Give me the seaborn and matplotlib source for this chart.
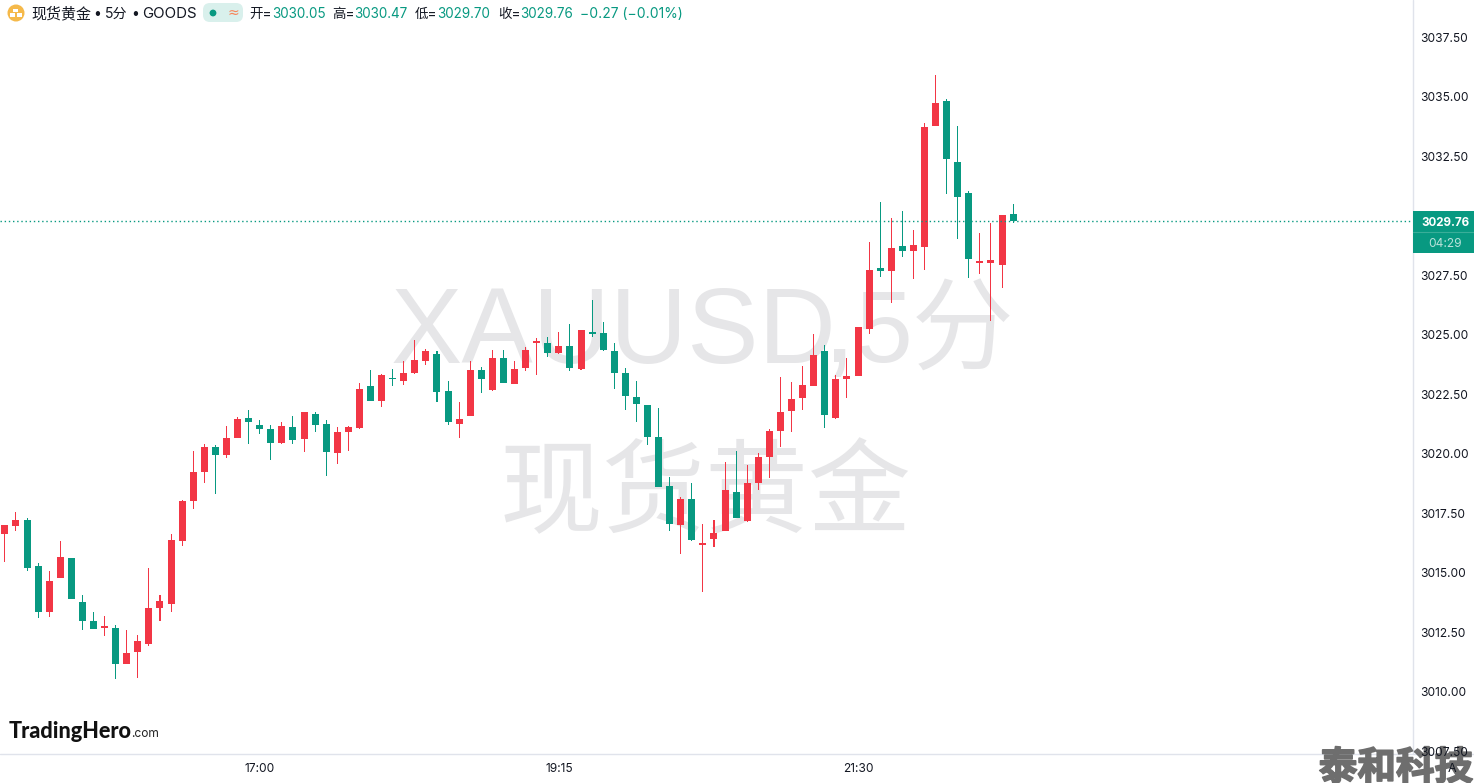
"""
XAUUSD 5 minute candlestick chart, TradingView look.
"""

import pandas as pd
import matplotlib
matplotlib.use("Agg")
import matplotlib.pyplot as plt
import matplotlib.patheffects as pe
from matplotlib.patches import Circle, FancyBboxPatch, Rectangle
import seaborn as sns

# ----------------------------------------------------------
# Data
# ----------------------------------------------------------
opens = [
    3016.63, 3016.95, 3017.21, 3015.27, 3013.35, 3014.78, 3015.61, 3013.76, 3012.96, 3012.68,
    3012.67, 3011.17, 3011.67, 3012.01, 3013.52, 3013.69, 3016.34, 3018.02, 3019.24, 3020.27,
    3019.95, 3020.67, 3021.49, 3021.20, 3021.03, 3020.46, 3021.11, 3020.62, 3021.66, 3021.24,
    3020.02, 3020.90, 3021.07, 3022.84, 3022.21, 3023.17, 3023.05, 3023.38, 3023.89, 3024.18,
    3022.63, 3021.24, 3021.58, 3023.51, 3022.67, 3024.01, 3022.92, 3023.59, 3024.64, 3024.64,
    3024.22, 3024.52, 3023.55, 3025.11, 3025.06, 3024.31, 3023.38, 3022.37, 3022.04, 3020.69,
    3018.63, 3017.00, 3018.09, 3016.16, 3016.41, 3016.74, 3018.38, 3017.16, 3018.76, 3019.85,
    3020.94, 3021.79, 3022.33, 3022.84, 3024.31, 3021.49, 3023.13, 3023.26, 3025.22, 3027.79,
    3027.67, 3028.72, 3028.51, 3028.68, 3033.76, 3034.81, 3032.25, 3030.95, 3028.00, 3028.00,
    3027.92, 3030.05,
]
highs = [
    3017.00, 3017.54, 3017.29, 3015.40, 3015.06, 3016.32, 3015.61, 3014.05, 3013.34, 3013.17,
    3012.79, 3012.58, 3012.37, 3015.19, 3014.05, 3016.62, 3018.05, 3020.11, 3020.40, 3020.36,
    3021.16, 3021.53, 3021.83, 3021.41, 3021.20, 3021.32, 3021.58, 3021.74, 3021.74, 3021.41,
    3021.11, 3021.16, 3022.96, 3023.51, 3023.34, 3023.55, 3023.89, 3024.77, 3024.39, 3024.31,
    3023.05, 3022.16, 3023.89, 3023.63, 3024.35, 3024.35, 3023.89, 3024.48, 3024.85, 3024.90,
    3025.11, 3025.44, 3025.19, 3026.45, 3025.53, 3024.64, 3023.59, 3023.05, 3022.04, 3021.91,
    3019.01, 3018.17, 3018.76, 3017.04, 3017.21, 3019.64, 3020.11, 3019.52, 3020.02, 3021.03,
    3023.21, 3023.00, 3023.68, 3025.02, 3024.56, 3023.30, 3024.01, 3025.32, 3028.89, 3030.57,
    3029.90, 3030.19, 3029.39, 3033.89, 3035.90, 3034.90, 3033.76, 3031.03, 3029.27, 3029.69,
    3030.02, 3030.47,
]
lows = [
    3015.46, 3016.76, 3015.08, 3013.10, 3013.14, 3014.78, 3013.90, 3012.60, 3012.64, 3012.35,
    3010.54, 3011.17, 3010.58, 3011.93, 3012.98, 3013.35, 3016.13, 3017.68, 3018.78, 3018.31,
    3019.83, 3020.67, 3020.41, 3020.83, 3019.73, 3020.40, 3020.40, 3020.06, 3020.90, 3019.05,
    3019.56, 3020.11, 3021.03, 3022.21, 3021.95, 3022.84, 3022.88, 3023.34, 3023.72, 3022.16,
    3021.20, 3020.65, 3021.58, 3022.54, 3022.63, 3022.96, 3022.92, 3023.47, 3023.30, 3024.06,
    3024.18, 3023.47, 3023.51, 3024.90, 3024.31, 3022.71, 3021.83, 3021.32, 3020.36, 3018.59,
    3016.74, 3015.78, 3016.32, 3014.18, 3016.07, 3016.74, 3017.29, 3017.12, 3018.47, 3018.97,
    3020.27, 3020.90, 3021.83, 3022.84, 3021.07, 3021.45, 3022.33, 3023.26, 3025.02, 3027.42,
    3026.32, 3028.26, 3027.33, 3027.71, 3033.76, 3030.90, 3029.01, 3027.37, 3027.54, 3025.57,
    3026.95, 3029.70,
]
closes = [
    3017.00, 3017.21, 3015.20, 3013.35, 3014.64, 3015.65, 3013.90, 3012.98, 3012.64, 3012.75,
    3011.17, 3011.62, 3012.12, 3013.51, 3013.80, 3016.37, 3018.00, 3019.22, 3020.27, 3019.95,
    3020.65, 3021.45, 3021.34, 3021.04, 3020.46, 3021.16, 3020.57, 3021.74, 3021.20, 3020.06,
    3020.90, 3021.11, 3022.71, 3022.21, 3023.30, 3023.14, 3023.38, 3023.93, 3024.31, 3022.58,
    3021.32, 3021.45, 3023.51, 3023.13, 3024.01, 3022.96, 3023.55, 3024.35, 3024.73, 3024.22,
    3024.52, 3023.59, 3025.19, 3025.02, 3024.35, 3023.38, 3022.42, 3022.08, 3020.69, 3018.59,
    3017.04, 3018.09, 3016.37, 3016.24, 3016.66, 3018.47, 3017.29, 3018.76, 3019.85, 3020.95,
    3021.74, 3022.29, 3022.88, 3024.14, 3021.62, 3023.13, 3023.26, 3025.32, 3027.71, 3027.67,
    3028.63, 3028.51, 3028.76, 3033.72, 3034.73, 3032.37, 3030.78, 3028.17, 3028.09, 3028.13,
    3030.02, 3029.76,
]

price_ticks = [3007.5, 3010, 3012.5, 3015, 3017.5, 3020, 3022.5, 3025, 3027.5, 3030, 3032.5, 3035, 3037.5]
time_ticks = [23, 50, 77]
time_labels = ["17:00", "19:15", "21:30"]
last_price = 3029.76

RED = "#f23645"
GREEN = "#089981"
TEXT = "#131722"
LINE = "#e0e3eb"
MARK = "#e6e6e8"
W, H = 1474, 783

sns.set_theme(style="white")
CJK = ["Noto Sans CJK SC", "DejaVu Sans"]
MIXED = ["Inter", "Noto Sans CJK SC"]
plt.rcParams["font.family"] = CJK


def px(size):
    return size * 0.72


df = pd.DataFrame({"bar": range(len(opens)), "open": opens, "high": highs, "low": lows, "close": closes})
df["body_low"] = df[["open", "close"]].min(axis=1)
df["body"] = (df["open"] - df["close"]).abs()
df["range"] = df["high"] - df["low"]
df["up"] = df["close"] >= df["open"]

fig = plt.figure(figsize=(W / 100, H / 100), dpi=100, facecolor="white")

# background layer in pixel coords: watermarks, header, frame lines
bg = fig.add_axes([0, 0, 1, 1], zorder=0)
bg.set_xlim(0, W)
bg.set_ylim(H, 0)
bg.axis("off")

# the watermark comma sits apart in the original, so three pieces
bg.text(391, 363, "XAUUSD", fontsize=px(107), color=MARK, va="baseline", family="Liberation Sans")
bg.text(839, 362, ",", fontsize=px(118), color=MARK, ha="center", va="baseline", family="Liberation Sans")
bg.text(1015, 363, "5分", fontsize=px(102), color=MARK, ha="right", va="baseline",
        family=["Liberation Sans", "Noto Sans CJK SC"])
bg.text(706, 496, "现货黄金", fontsize=px(103), color=MARK, ha="center", va="center")

bg.plot([0, W], [754, 754], color=LINE, lw=1)
bg.plot([1413, 1413], [0, 754], color=LINE, lw=1)

bg.text(1396, 768, "泰和科技", fontsize=px(38.6), color="#6e6e6e", ha="center", va="center", weight="black",
        path_effects=[pe.withStroke(linewidth=1.2, foreground="#6e6e6e")])

# coin icon
bg.add_patch(Circle((16, 13), 8.5, color="#f5b94a", lw=0))
for bx, by in [(13.5, 8.5), (10, 13.4), (16.8, 13.4)]:
    bg.add_patch(Rectangle((bx, by), 5, 3.8, color="white", lw=0))

# header
head_y = 14
bg.text(31, head_y, "现货黄金", fontsize=px(15), color=TEXT, va="center")
bg.text(97, head_y, "•", fontsize=px(14), color=TEXT, ha="center", va="center", family="Inter")
bg.text(105, head_y, "5分", fontsize=px(14), color=TEXT, va="center", family=MIXED)
bg.text(135, head_y, "•", fontsize=px(14), color=TEXT, ha="center", va="center", family="Inter")
bg.text(142, head_y, "GOODS", fontsize=px(15), color=TEXT, va="center", family="Inter")
bg.add_patch(FancyBboxPatch((203, 3), 40, 19, boxstyle="round,pad=0,rounding_size=7",
                            facecolor="#d9f0ec", edgecolor="none", lw=0))
bg.add_patch(Circle((213, 13), 3.4, color=GREEN, lw=0))
bg.text(233, 13, "≈", fontsize=px(14), color="#f7855a", ha="center", va="center", family="DejaVu Sans")

header = [
    (249, "开=", TEXT), (272, "3030.05", GREEN),
    (332, "高=", TEXT), (354, "3030.47", GREEN),
    (415, "低=", TEXT), (437, "3029.70", GREEN),
    (498, "收=", TEXT), (520, "3029.76", GREEN),
    (580, "−0.27 (−0.01%)", GREEN),
]
for hx, label, col in header:
    size = 13.9 if hx == 580 else 13.5
    bg.text(hx, head_y, label, fontsize=px(size), color=col, va="center", family=MIXED)

# logo
bg.text(9, 732, "TradingHero", fontsize=px(21.6), color="#111111", va="center", weight=900, family="Lato")
bg.text(131, 734, ".com", fontsize=px(12), color="#222222", va="center", family="Inter")

# ----------------------------------------------------------
# Candles
# ----------------------------------------------------------
ax = fig.add_axes([0, 29 / H, 1413 / W, 754 / H], zorder=1)
ax.patch.set_alpha(0)

for up, col in [(True, RED), (False, GREEN)]:
    part = df[df["up"] == up]
    sns.barplot(data=part, x="bar", y="range", bottom=part["low"], native_scale=True, color=col,
                saturation=1, width=1.05 / 11.08, errorbar=None, linewidth=0, ax=ax)
    sns.barplot(data=part, x="bar", y="body", bottom=part["body_low"], native_scale=True, color=col,
                saturation=1, width=7 / 11.08, errorbar=None, linewidth=0, ax=ax)

# last price line
ax.axhline(last_price, color=GREEN, lw=1, ls=(0, (1, 2)))

ax.set_xlim(-0.44, 127.09)
ax.set_ylim(3007.374, 3039.055)
ax.set_xlabel("")
ax.set_ylabel("")
for side in ax.spines.values():
    side.set_visible(False)

ax.yaxis.tick_right()
ax.set_yticks(price_ticks)
ax.set_yticklabels([f"{p:.2f}" for p in price_ticks], fontsize=px(12), color=TEXT, family="Inter")
ax.set_xticks(time_ticks)
ax.set_xticklabels(time_labels, fontsize=px(12), color=TEXT, family="Inter")
ax.tick_params(axis="y", length=0, pad=5)
ax.tick_params(axis="x", length=0, pad=6.8)

# ----------------------------------------------------------
# Price label on the axis
# ----------------------------------------------------------
top = fig.add_axes([0, 0, 1, 1], zorder=2)
top.set_xlim(0, W)
top.set_ylim(H, 0)
top.axis("off")
top.add_patch(Rectangle((1413, 211), 61, 42, color=GREEN, lw=0))
top.plot([1413, 1474], [232, 232], color="#3aae99", lw=0.8)
top.text(1445, 223, "3029.76", fontsize=px(11.6), color="white", ha="center", va="center",
         weight="bold", family="Inter")
top.text(1445, 244, "04:29", fontsize=px(12), color="#b8e2da", ha="center", va="center", family="Inter")
top.text(1452, 769, "A", fontsize=px(12.5), color=TEXT, ha="center", va="center", family="Inter")

fig.savefig("out.png", dpi=100)
